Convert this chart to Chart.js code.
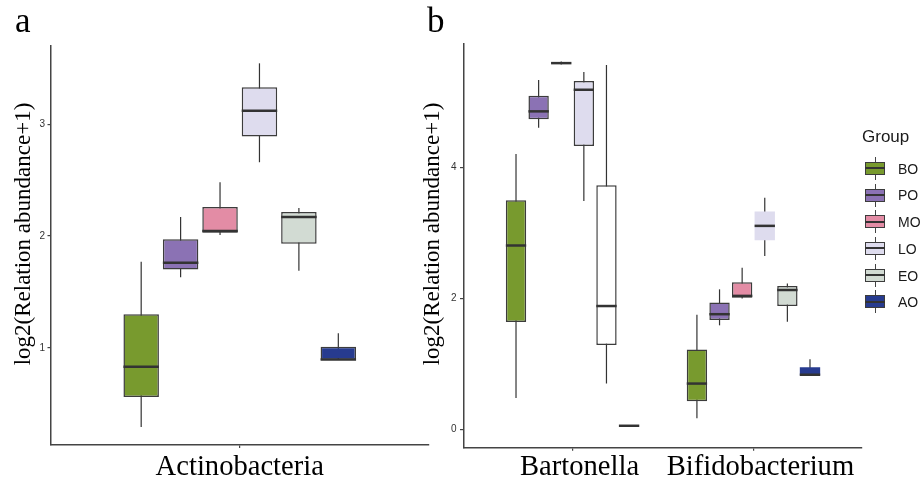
<!DOCTYPE html>
<html><head><meta charset="utf-8">
<script src="https://cdn.jsdelivr.net/npm/chart.js@4.4.1/dist/chart.umd.min.js"></script>
<style>
html,body{margin:0;padding:0;background:#fff;}
#wrap{position:relative;width:921px;height:483px;overflow:hidden;background:#fff;}
canvas{position:absolute;top:0;}
.serif{font-family:'Liberation Serif','Times New Roman',serif;color:#000;position:absolute;white-space:nowrap;}
.ytitle{font-size:23px;line-height:23px;width:320px;text-align:center;transform:translate(-50%,-50%) rotate(-90deg);}
.panel{font-size:35px;line-height:35px;}
#legend{position:absolute;left:0;top:0;font-family:'Liberation Sans',Arial,sans-serif;}
#legend div{position:absolute;white-space:nowrap;}
</style></head><body><div id="wrap">
<canvas id="ca" width="440" height="483" style="left:0px;width:440px;height:483px"></canvas>
<canvas id="cb" width="521" height="483" style="left:400px;width:521px;height:483px"></canvas>
<div class="serif panel" style="left:15px;top:3px">a</div>
<div class="serif panel" style="left:427px;top:3px">b</div>
<div class="serif ytitle" style="left:21.7px;top:234px">log2(Relation abundance+1)</div>
<div class="serif ytitle" style="left:430.7px;top:234px">log2(Relation abundance+1)</div>
<div id="legend"></div>
</div>
<script>
// ---------- data ----------
const groups = ['BO', 'PO', 'MO', 'LO', 'EO', 'AO'];
const legendTitle = 'Group';

// Panel a
const catsA = ['Actinobacteria'];
const actLow  = [0.29, 1.63, 2.01, 2.66, 1.69, 0.89];
const actQ1   = [0.56, 1.70, 2.03, 2.89, 1.93, 0.89];
const actMed  = [0.83, 1.76, 2.045, 3.12, 2.17, 0.895];
const actQ3   = [1.30, 1.97, 2.26, 3.33, 2.215, 1.01];
const actHigh = [1.77, 2.17, 2.48, 3.545, 2.25, 1.13];
const ticksA = [1, 2, 3];

// Panel b
const catsB = ['Bartonella', 'Bifidobacterium'];
const bartLow  = [0.48, 4.61, 5.575, 3.49, 0.70, 0.05];
const bartQ1   = [1.64, 4.74, 5.59, 4.33, 1.29, 0.05];
const bartMed  = [2.81, 4.86, 5.597, 5.19, 1.885, 0.055];
const bartQ3   = [3.50, 5.10, 5.605, 5.325, 3.73, 0.06];
const bartHigh = [4.21, 5.34, 5.62, 5.46, 5.57, 0.06];
const bifLow  = [0.17, 1.59, 2.00, 2.65, 1.645, 0.82];
const bifQ1   = [0.43, 1.67, 2.01, 2.89, 1.885, 0.825];
const bifMed  = [0.70, 1.76, 2.04, 3.11, 2.13, 0.835];
const bifQ3   = [1.22, 1.94, 2.25, 3.33, 2.19, 0.95];
const bifHigh = [1.75, 2.14, 2.47, 3.54, 2.23, 1.07];
const ticksB = [0, 2, 4];

// ---------- styles ----------
const fillColors = ['#789A2E', '#8B72B4', '#E38CA5', '#DEDCEE', '#D2DBD3', '#273B8F'];
const edgeColor = '#3c3c3c';
const lineColor = '#333333';

const statsA = [{low: actLow, q1: actQ1, med: actMed, q3: actQ3, high: actHigh}];
const statsB = [
  {low: bartLow, q1: bartQ1, med: bartMed, q3: bartQ3, high: bartHigh},
  {low: bifLow, q1: bifQ1, med: bifMed, q3: bifQ3, high: bifHigh}
];

function buildDatasets(stats, catPct, fills, borders) {
  return groups.map((g, i) => ({
    label: g,
    data: stats.map((s, k) => ({x: k + 1, y: [s.q1[i], s.q3[i]]})),
    lows: stats.map(s => s.low[i]),
    highs: stats.map(s => s.high[i]),
    meds: stats.map(s => s.med[i]),
    backgroundColor: fills[i],
    borderColor: edgeColor,
    borderWidth: borders[i],
    borderSkipped: false,
    categoryPercentage: catPct,
    barPercentage: 0.9
  }));
}

const boxParts = {
  id: 'boxParts',
  beforeDatasetsDraw(chart) {
    const ctx = chart.ctx, y = chart.scales.y;
    ctx.save();
    ctx.strokeStyle = lineColor;
    ctx.lineWidth = 1.2;
    chart.data.datasets.forEach((ds, i) => {
      chart.getDatasetMeta(i).data.forEach((el, j) => {
        ctx.beginPath();
        ctx.moveTo(el.x, y.getPixelForValue(ds.highs[j]));
        ctx.lineTo(el.x, y.getPixelForValue(ds.lows[j]));
        ctx.stroke();
      });
    });
    ctx.restore();
  },
  afterDatasetsDraw(chart) {
    const ctx = chart.ctx, y = chart.scales.y;
    ctx.save();
    ctx.strokeStyle = lineColor;
    ctx.lineWidth = 2.5;
    chart.data.datasets.forEach((ds, i) => {
      chart.getDatasetMeta(i).data.forEach((el, j) => {
        const py = y.getPixelForValue(ds.meds[j]);
        ctx.beginPath();
        ctx.moveTo(el.x - el.width / 2, py);
        ctx.lineTo(el.x + el.width / 2, py);
        ctx.stroke();
      });
    });
    ctx.restore();
  }
};

function makeChart(canvasId, cats, stats, catPct, fills, borders, yMin, yMax, yTicks, geom) {
  return new Chart(document.getElementById(canvasId), {
    type: 'bar',
    data: {datasets: buildDatasets(stats, catPct, fills, borders)},
    plugins: [boxParts],
    options: {
      responsive: false,
      animation: false,
      devicePixelRatio: 1,
      layout: {padding: {top: geom.top, right: geom.right, left: 0, bottom: 0}},
      plugins: {legend: {display: false}, tooltip: {enabled: false}},
      scales: {
        x: {
          type: 'linear', min: 0.4, max: cats.length + 0.6, offset: false,
          afterBuildTicks: s => { s.ticks = cats.map((c, k) => ({value: k + 1})); },
          afterFit: s => { s.height = geom.xh; },
          ticks: {
            callback: v => cats[Math.round(v) - 1] || '',
            font: {family: "'Liberation Serif', 'Times New Roman', serif", size: 28.6, lineHeight: 1},
            color: '#000', padding: geom.xpad, maxRotation: 0, autoSkip: false,
            labelOffset: geom.xlo
          },
          grid: {display: true, offset: false, drawOnChartArea: false, drawTicks: true, tickLength: 3, color: '#444', lineWidth: 1.2},
          border: {display: true, color: '#444', width: 1.5}
        },
        y: {
          min: yMin, max: yMax,
          afterBuildTicks: s => { s.ticks = yTicks.map(v => ({value: v})); },
          afterFit: s => { s.width = geom.yw; },
          ticks: {font: {family: "'Liberation Sans', Arial, sans-serif", size: 10}, color: '#333', padding: geom.ypad},
          grid: {display: true, drawOnChartArea: false, drawTicks: true, tickLength: geom.ytl, color: '#444', lineWidth: 1.2},
          border: {display: true, color: '#444', width: 1.5}
        }
      }
    }
  });
}

// Panel a
const fillsA = fillColors.map(c => [c]);
const bordersA = groups.map(() => [1.5]);
makeChart('ca', catsA, statsA, 0.625, fillsA, bordersA, 0.13, 3.70, ticksA,
  {top: 46, right: 11, xh: 38, xpad: 5, yw: 50.5, ypad: 2.5, ytl: 3, xlo: 0});

// Panel b
const fillsB = fillColors.map(c => [c, c]);
fillsB[4][0] = '#ffffff';
const bordersB = groups.map(() => [1.5, 1.5]);
bordersB[3][1] = 0;
bordersB[5][1] = 0;
makeChart('cb', catsB, statsB, 0.75, fillsB, bordersB, -0.28, 5.90, ticksB,
  {top: 43.3, right: 59, xh: 35.3, xpad: 2.5, yw: 64, ypad: 3.5, ytl: 4, xlo: 7});

// Legend
const leg = document.getElementById('legend');
let html = `<div style="left:862px;top:127.2px;font-size:17px;line-height:20px;color:#1a1a1a">${legendTitle}</div>`;
groups.forEach((g, i) => {
  const cy = 168.3 + i * 26.7;
  html += `<div style="left:874.5px;top:${cy - 11.5}px;width:1.2px;height:23px;background:#444"></div>`;
  html += `<div style="left:865px;top:${cy - 6.5}px;width:20px;height:13px;box-sizing:border-box;border:1.3px solid ${edgeColor};background:${fillColors[i]}"></div>`;
  html += `<div style="left:865px;top:${cy - 1}px;width:20px;height:2px;background:${lineColor}"></div>`;
  html += `<div style="left:898px;top:${cy - 7.6}px;font-size:14px;line-height:16px;color:#1a1a1a">${g}</div>`;
});
leg.innerHTML = html;
</script>
</body></html>
